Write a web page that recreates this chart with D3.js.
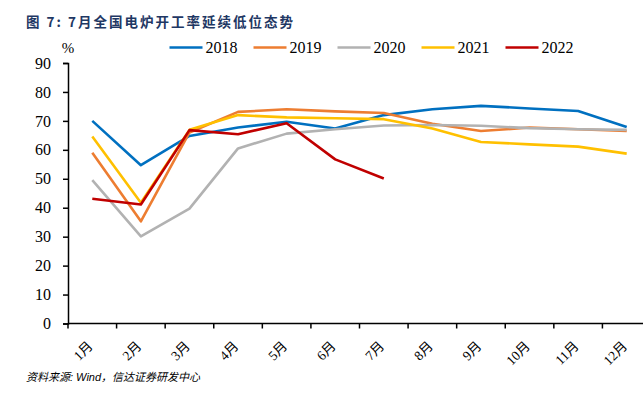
<!DOCTYPE html>
<html>
<head>
<meta charset="utf-8">
<script src="https://cdn.jsdelivr.net/npm/d3@7"></script>
<style>
  body { margin: 0; background: #fff; }
  svg { display: block; }
</style>
</head>
<body>
<script>
// months on the x axis
var months = ["1月","2月","3月","4月","5月","6月","7月","8月","9月","10月","11月","12月"];
var years = ["2018","2019","2020","2021","2022"];
var colors = ["#0070C0","#ED7D31","#B2B2B2","#FFC000","#C00000"];
var yTicks = [0,10,20,30,40,50,60,70,80,90];

// 电炉开工率 %
var v2018 = [70.0,54.7,64.8,67.7,69.7,67.4,72.0,74.0,75.2,74.3,73.4,67.9];
var v2019 = [59.0,35.3,66.0,73.1,74.0,73.3,72.7,69.0,66.5,67.7,67.1,66.5];
var v2020 = [49.5,30.1,39.7,60.5,65.6,67.1,68.4,68.6,68.3,67.5,67.1,66.9];
var v2021 = [64.6,41.7,66.9,72.0,71.2,70.9,70.6,67.4,62.7,61.9,61.1,58.7];
var v2022 = [43.1,41.1,66.8,65.4,69.2,56.7,50.1];
var series = [v2018,v2019,v2020,v2021,v2022];

var W = 643, H = 396;
var svg = d3.select("body").append("svg").attr("width",W).attr("height",H);
var serif = "'Liberation Serif','Times New Roman','Noto Sans CJK SC',serif";

// title
svg.append("text").attr("x",26).attr("y",26.5)
  .attr("font-family","'Noto Sans CJK SC',sans-serif").attr("font-weight","bold")
  .attr("font-size",13.5).attr("fill","#1F3864").attr("letter-spacing",2)
  .text("图 7: 7月全国电炉开工率延续低位态势");

var x = d3.scaleBand().domain(months).range([68,651]).padding(0);
var y = d3.scaleLinear().domain([0,90]).range([323.5,63]);

// y axis
var yAxis = svg.append("g").attr("transform","translate(68,0)")
  .call(d3.axisLeft(y).tickValues(yTicks).tickSize(5).tickPadding(12).tickFormat(d3.format("d")));
yAxis.select(".domain").attr("stroke","#000").attr("stroke-width",1.5);
yAxis.selectAll(".tick line").attr("stroke","#000").attr("stroke-width",1.5);
yAxis.selectAll(".tick text").attr("font-family",serif).attr("font-size",16).attr("fill","#000");

// x axis: ticks between months
svg.append("line").attr("x1",68).attr("x2",W).attr("y1",y(0)).attr("y2",y(0))
  .attr("stroke","#000").attr("stroke-width",1.5);
svg.selectAll(".xtick").data(months).enter().append("line")
  .attr("x1",d=>x(d)).attr("x2",d=>x(d)).attr("y1",y(0)).attr("y2",y(0)+5)
  .attr("stroke","#000").attr("stroke-width",1.5);
svg.selectAll(".xlab").data(months).enter().append("text")
  .attr("transform",d=>"translate("+(x(d)+x.bandwidth()/2-2)+","+(y(0)+20)+") rotate(-45)")
  .attr("text-anchor","end").attr("dy","0.35em")
  .attr("font-family",serif).attr("font-size",13.5).attr("fill","#000")
  .text(d=>d);

// % unit
svg.append("text").attr("x",68).attr("y",53).attr("text-anchor","middle")
  .attr("font-family",serif).attr("font-size",15).text("%");

// lines
var line = d3.line().x((d,i)=>x(months[i])+x.bandwidth()/2).y(d=>y(d));
svg.selectAll(".series").data(series).enter().append("path")
  .attr("d",d=>line(d)).attr("fill","none")
  .attr("stroke",(d,i)=>colors[i]).attr("stroke-width",2.6)
  .attr("stroke-linejoin","round");

// legend
var leg = svg.selectAll(".leg").data(years).enter().append("g")
  .attr("transform",(d,i)=>"translate("+(169.5+i*84)+",47.5)");
leg.append("line").attr("x1",0).attr("x2",33).attr("y1",0).attr("y2",0)
  .attr("stroke",(d,i)=>colors[i]).attr("stroke-width",2.6);
leg.append("text").attr("x",36).attr("dy","0.35em")
  .attr("font-family",serif).attr("font-size",16).attr("fill","#000").text(d=>d);

// source
svg.append("text").attr("x",26).attr("y",381)
  .attr("font-family","'Liberation Sans','Noto Sans CJK SC',sans-serif").attr("font-style","italic")
  .attr("font-size",11).attr("fill","#000")
  .text("资料来源: Wind，信达证券研发中心");
</script>
</body>
</html>
